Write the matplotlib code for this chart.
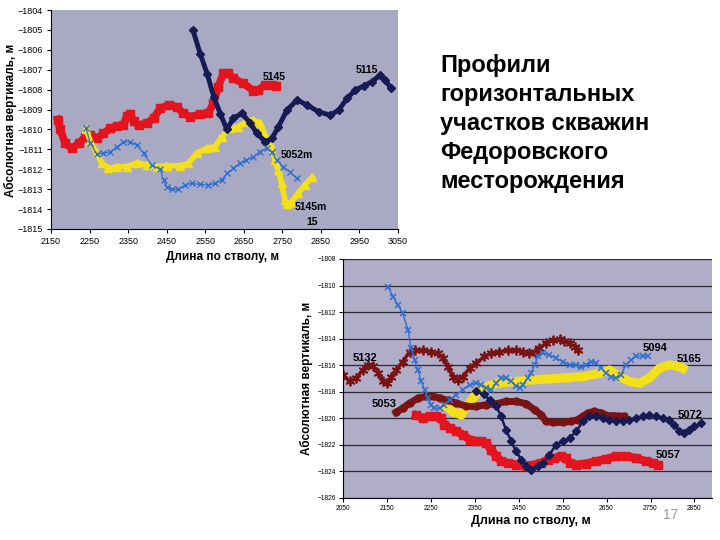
import matplotlib
matplotlib.use("Agg")
from matplotlib import pyplot as plt

plt.rcParams['font.family'] = ['Liberation Sans', 'DejaVu Sans']

# ---- верхний график ----
red_x = [2167, 2174, 2187, 2204, 2222, 2239, 2252, 2269, 2286, 2304, 2321, 2338, 2347, 2355, 2364,
         2377, 2398, 2416, 2433, 2455, 2476, 2493, 2511, 2537, 2558, 2571, 2584, 2597, 2610, 2623,
         2649, 2675, 2688, 2705, 2722, 2733]
red_y = [-1809.5, -1810.0, -1810.7, -1810.95, -1810.7, -1810.37, -1810.28, -1810.45, -1810.2,
         -1809.95, -1809.83, -1809.78, -1809.3, -1809.2, -1809.6, -1809.78, -1809.7, -1809.44,
         -1808.94, -1808.77, -1808.86, -1809.19, -1809.36, -1809.24, -1809.19, -1808.69, -1807.85,
         -1807.18, -1807.18, -1807.43, -1807.69, -1808.05, -1808.02, -1807.77, -1807.77, -1807.82]

yel_x = [2241, 2252, 2269, 2282, 2299, 2321, 2347, 2373, 2398, 2424, 2450, 2485, 2506, 2528, 2554,
         2575, 2593, 2614, 2636, 2657, 2675, 2692, 2705, 2718, 2731, 2739, 2748, 2757, 2763, 2774,
         2791, 2808, 2828]
yel_y = [-1810.0, -1810.6, -1811.2, -1811.7, -1811.96, -1811.87, -1811.87, -1811.67, -1811.79,
         -1811.87, -1811.82, -1811.82, -1811.7, -1811.2, -1810.95, -1810.87, -1810.37, -1809.95,
         -1809.86, -1809.61, -1809.53, -1809.7, -1810.28, -1810.7, -1811.54, -1812.04, -1812.71,
         -1813.55, -1813.75, -1813.63, -1813.21, -1812.79, -1812.4]

blu_x = [2241, 2252, 2269, 2286, 2304, 2321, 2338, 2355, 2373, 2390, 2411, 2433, 2442, 2450, 2463,
         2480, 2498, 2515, 2537, 2558, 2575, 2593, 2606, 2623, 2640, 2657, 2675, 2692, 2709, 2722,
         2735, 2752, 2769, 2787]
blu_y = [-1809.95, -1810.7, -1811.24, -1811.2, -1811.12, -1810.87, -1810.62, -1810.62, -1810.78,
         -1811.2, -1811.79, -1812.0, -1812.54, -1812.88, -1813.01, -1813.01, -1812.79, -1812.71,
         -1812.76, -1812.79, -1812.71, -1812.54, -1812.21, -1811.96, -1811.7, -1811.54, -1811.37,
         -1811.12, -1810.95, -1811.12, -1811.54, -1811.87, -1812.12, -1812.46]

nav_x = [2518, 2537, 2555, 2572, 2589, 2606, 2623, 2645, 2667, 2684, 2706, 2723, 2740, 2762, 2788,
         2814, 2844, 2874, 2896, 2918, 2939, 2961, 2982, 3004, 3017, 3032]
nav_y = [-1805.0, -1806.2, -1807.2, -1808.35, -1809.2, -1810.0, -1809.44, -1809.19, -1809.69,
         -1810.2, -1810.62, -1810.45, -1809.86, -1809.03, -1808.52, -1808.77, -1809.11, -1809.28,
         -1809.03, -1808.44, -1808.02, -1807.82, -1807.6, -1807.27, -1807.52, -1807.94]

top_xticks = list(range(2150, 3051, 100))
top_yticks = list(range(-1815, -1803))

# ---- нижний график ----
b132_x = [2050, 2065, 2080, 2095, 2107, 2118, 2130, 2141, 2150, 2160, 2171, 2186, 2202, 2213, 2232,
          2251, 2266, 2277, 2289, 2300, 2312, 2323, 2338, 2353, 2372, 2387, 2406, 2425, 2444, 2459,
          2474, 2486, 2497, 2512, 2528, 2543, 2554, 2566, 2577, 2584]
b132_y = [-1816.72, -1817.22, -1816.97, -1816.35, -1815.97, -1816.05, -1816.6, -1817.22, -1817.35,
          -1816.85, -1816.35, -1815.72, -1814.97, -1814.84, -1814.84, -1814.97, -1815.09, -1815.47,
          -1816.1, -1816.85, -1817.15, -1816.85, -1816.22, -1815.84, -1815.34, -1815.09, -1814.97,
          -1814.89, -1814.84, -1814.97, -1815.09, -1814.97, -1814.72, -1814.34, -1814.09, -1814.04,
          -1814.14, -1814.34, -1814.59, -1814.84]

b094_x = [2152, 2164, 2175, 2186, 2198, 2205, 2213, 2221, 2228, 2236, 2243, 2251, 2258, 2270, 2281,
          2293, 2308, 2323, 2338, 2353, 2365, 2376, 2387, 2399, 2410, 2421, 2433, 2444, 2452, 2459,
          2471, 2478, 2486, 2494, 2505, 2520, 2535, 2550, 2566, 2581, 2592, 2603, 2615, 2626, 2638,
          2649, 2660, 2672, 2683, 2694, 2706, 2717, 2732, 2744]
b094_y = [-1810.08, -1810.83, -1811.46, -1812.09, -1813.34, -1814.72, -1815.6, -1816.35, -1817.22,
          -1817.85, -1818.48, -1818.98, -1819.23, -1819.23, -1818.98, -1818.6, -1818.23, -1817.85,
          -1817.47, -1817.35, -1817.47, -1817.72, -1817.85, -1817.35, -1816.97, -1816.97, -1817.22,
          -1817.6, -1817.72, -1817.47, -1816.97, -1816.6, -1815.97, -1815.34, -1815.09, -1815.22,
          -1815.47, -1815.72, -1815.97, -1815.97, -1816.15, -1815.97, -1815.72, -1815.84, -1816.22,
          -1816.6, -1816.85, -1816.97, -1816.72, -1815.97, -1815.6, -1815.34, -1815.29, -1815.29]

b165_x = [2284, 2300, 2318, 2330, 2343, 2361, 2385, 2406, 2444, 2480, 2520, 2560, 2596, 2634, 2657,
          2679, 2702, 2725, 2747, 2770, 2793, 2816, 2823]
b165_y = [-1819.05, -1819.5, -1819.73, -1819.2, -1818.6, -1817.85, -1817.5, -1817.32, -1817.22,
          -1817.1, -1817.02, -1816.95, -1816.85, -1816.6, -1816.35, -1816.85, -1817.22, -1817.35,
          -1816.97, -1816.22, -1815.97, -1816.1, -1816.22]

b053_x = [2171, 2186, 2202, 2221, 2240, 2255, 2270, 2289, 2308, 2331, 2353, 2376, 2399, 2421, 2444,
          2467, 2486, 2501, 2512, 2528, 2550, 2569, 2584, 2596, 2607, 2622, 2638, 2653, 2668, 2679,
          2690]
b053_y = [-1819.55, -1819.23, -1818.85, -1818.48, -1818.35, -1818.35, -1818.48, -1818.65, -1818.85,
          -1819.1, -1819.1, -1818.98, -1818.9, -1818.73, -1818.73, -1818.9, -1819.35, -1819.73,
          -1820.23, -1820.31, -1820.31, -1820.23, -1820.1, -1819.85, -1819.6, -1819.48, -1819.6,
          -1819.8, -1819.8, -1819.85, -1819.85]

b057_x = [2217, 2232, 2247, 2262, 2274, 2281, 2293, 2308, 2323, 2338, 2353, 2365, 2376, 2387, 2399,
          2410, 2425, 2444, 2467, 2486, 2501, 2516, 2531, 2547, 2558, 2566, 2581, 2603, 2626, 2649,
          2672, 2694, 2717, 2740, 2755, 2766]
b057_y = [-1819.78, -1819.98, -1819.85, -1819.85, -1819.98, -1820.48, -1820.73, -1820.98, -1821.23,
          -1821.6, -1821.73, -1821.73, -1821.86, -1822.36, -1822.86, -1823.24, -1823.36, -1823.49,
          -1823.56, -1823.49, -1823.36, -1823.11, -1822.99, -1822.86, -1822.99, -1823.36, -1823.49,
          -1823.41, -1823.24, -1823.06, -1822.86, -1822.86, -1822.99, -1823.24, -1823.36, -1823.49]

b072_x = [2353, 2370, 2384, 2399, 2410, 2421, 2433, 2444, 2456, 2467, 2478, 2494, 2505, 2520, 2535,
          2550, 2566, 2581, 2596, 2611, 2626, 2641, 2656, 2672, 2687, 2702, 2717, 2732, 2747, 2763,
          2778, 2793, 2804, 2816, 2827, 2838, 2850, 2865]
b072_y = [-1817.97, -1818.2, -1818.6, -1819.1, -1819.85, -1820.86, -1821.73, -1822.49, -1823.11,
          -1823.61, -1823.86, -1823.61, -1823.36, -1822.74, -1821.98, -1821.73, -1821.48, -1820.98,
          -1820.23, -1819.85, -1819.85, -1819.98, -1820.1, -1820.23, -1820.23, -1820.1, -1819.98,
          -1819.85, -1819.73, -1819.85, -1819.98, -1820.1, -1820.48, -1820.98, -1821.11, -1820.86,
          -1820.61, -1820.36]

bot_xticks = list(range(2050, 2851, 100))
bot_yticks = list(range(-1826, -1807, 2))

RED = '#e3141e'
YEL = '#f4e018'
BLUE = '#2f6fd0'
NAVY = '#161a55'
MAROON = '#7a1414'

fig = plt.figure(figsize=(7.2, 5.4), dpi=100)

# верхний
ax = fig.add_axes([51/720, 1-229/540, 347/720, 219/540])
ax.set_facecolor('#aaa9c4')
ax.plot(red_x, red_y, color=RED, lw=5.5, marker='s', ms=6, mec=RED)
ax.plot(yel_x, yel_y, color=YEL, lw=4, marker='^', ms=5.5, mec=YEL)
ax.plot(nav_x, nav_y, color=NAVY, lw=3.5, marker='D', ms=4.5, mec=NAVY)
ax.plot(blu_x, blu_y, color=BLUE, lw=0.9, marker='x', ms=4, mew=1)
ax.set_xlim(2150, 3050)
ax.set_ylim(-1815, -1804)
ax.set_xticks(top_xticks)
ax.set_yticks(top_yticks)
ax.tick_params(labelsize=6.5, length=3, width=0.8, pad=3)
for s in ['top', 'right']:
    ax.spines[s].set_visible(False)
ax.text(2700, -1807.37, '5145', fontsize=7.5, fontweight='bold', va='center')
ax.text(2939, -1807.0, '5115', fontsize=7.5, fontweight='bold', va='center')
ax.text(2745, -1811.29, '5052m', fontsize=7.5, fontweight='bold', va='center')
ax.text(2783, -1813.9, '5145m', fontsize=7.5, fontweight='bold', va='center')
ax.text(2828, -1814.65, '15', fontsize=7.5, fontweight='bold', va='center', ha='center')
fig.text(223/720, 1-257/540, 'Длина по стволу, м', fontsize=8.5, fontweight='bold',
         ha='center', va='center')
fig.text(10/720, 1-120/540, 'Абсолютная вертикаль, м', fontsize=8.5, fontweight='bold',
         ha='center', va='center', rotation=90)

# нижний
bx = fig.add_axes([343/720, 1-498/540, 369/720, 239/540])
bx.set_facecolor('#b0adc8')
bx.grid(axis='y', color='#2a2a30', lw=0.9)
bx.set_axisbelow(True)
bx.plot(b165_x, b165_y, color=YEL, lw=6.5, marker='o', ms=5, mec=YEL)
bx.plot(b057_x, b057_y, color=RED, lw=6, marker='s', ms=6, mec=RED)
bx.plot(b053_x, b053_y, color=MAROON, lw=5, marker='o', ms=5, mec=MAROON)
bx.plot(b072_x, b072_y, color=NAVY, lw=1.8, marker='D', ms=4.5, mec=NAVY)
bx.plot(b132_x, b132_y, color=MAROON, lw=2.5, marker=(6, 2, 0), ms=7, mew=1.3, mec=MAROON)
bx.plot(b094_x, b094_y, color=BLUE, lw=1, marker='x', ms=4.5, mew=1.1)
bx.set_xlim(2050, 2890)
bx.set_ylim(-1826, -1808)
bx.set_xticks(bot_xticks)
bx.set_yticks(bot_yticks)
bx.tick_params(labelsize=4.8, length=3, width=0.8, pad=2)
for s in ['top', 'right']:
    bx.spines[s].set_visible(False)
for lx, ly, t in [(2072, -1815.44, '5132'), (2115, -1818.9, '5053'), (2731, -1814.72, '5094'),
                  (2809, -1815.52, '5165'), (2812, -1819.73, '5072'), (2761, -1822.74, '5057')]:
    bx.text(lx, ly, t, fontsize=8, fontweight='bold', va='center')
fig.text(531/720, 1-521/540, 'Длина по стволу, м', fontsize=9, fontweight='bold',
         ha='center', va='center')
fig.text(306/720, 1-378/540, 'Абсолютная вертикаль, м', fontsize=8.5, fontweight='bold',
         ha='center', va='center', rotation=90)

# заголовок
fig.text(440/720, 1-54/540, 'Профили\nгоризонтальных\nучастков скважин\nФедоровского\nместорождения',
         fontsize=17, fontweight='bold', ha='left', va='top', linespacing=1.33)
fig.text(671/720, 1-515/540, '17', fontsize=10, color='#9a9a9a', ha='center', va='center')

fig.savefig('out.png', dpi=100)
